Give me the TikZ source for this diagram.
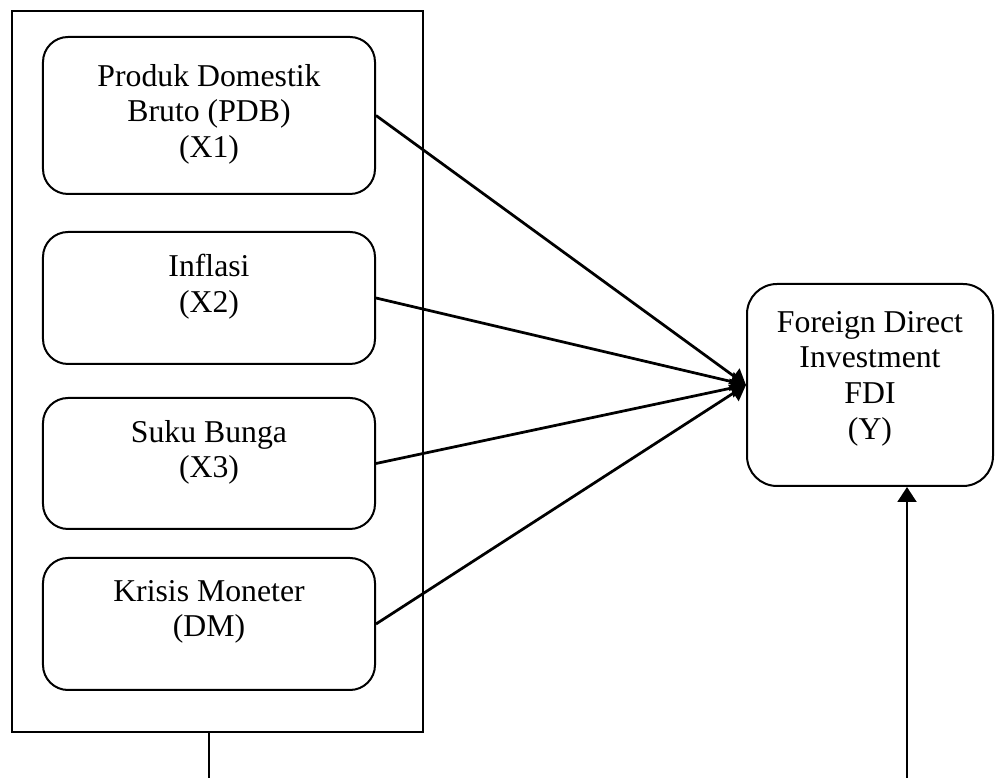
\documentclass[tikz,border=0pt]{standalone}
\usepackage{fontspec}
\setmainfont{Liberation Serif}
\usepackage{tikz}
\usetikzlibrary{arrows.meta,positioning}
\tikzset{
  varbox/.style={draw, line width=0.8pt, rounded corners=10pt, minimum width=132.8pt, inner sep=0pt},
  vartext/.style={align=center, inner sep=0pt, font=\fontsize{12.7}{14.3}\selectfont},
  link/.style={line width=1.1pt, -{Triangle[length=6pt,width=7.5pt]}}
}

\begin{document}
\begin{tikzpicture}[x=0.4pt,y=-0.4pt]
  \useasboundingbox (0,0) rectangle (995,778);

  % frame round the independent variables
  \node[draw, line width=0.8pt, minimum width=164.4pt, minimum height=288.4pt, inner sep=0pt] (frame) at (217.5,371.5) {};

  % independent variables
  \node[varbox, minimum height=62.8pt] (pdb) at (209,115.5) {};
  \node[vartext, below=11pt of pdb.north] (pdbtext) {Produk Domestik\\Bruto (PDB)\\(X1)};
  \node[varbox, minimum height=52.8pt] (inf) at (209,298) {};
  \node[vartext, below=9pt of inf.north] (inftext) {Inflasi\\(X2)};
  \node[varbox, minimum height=52.4pt] (sb) at (209,463.5) {};
  \node[vartext, below=9pt of sb.north] (sbtext) {Suku Bunga\\(X3)};
  \node[varbox, minimum height=52.8pt] (dm) at (209,624) {};
  \node[vartext, below=9pt of dm.north] (dmtext) {Krisis Moneter\\(DM)};

  % dependent variable
  \node[varbox, rounded corners=12pt, minimum width=98.4pt, minimum height=80.8pt] (fdi) at (870,385) {};
  \node[vartext, below=11pt of fdi.north] (fditext) {Foreign Direct\\Investment\\FDI\\(Y)};

  \draw[link] (pdb.east) -- (fdi.west);
  \draw[link] (inf.east) -- (fdi.west);
  \draw[link] (sb.east) -- (fdi.west);
  \draw[link] (dm.east) -- (fdi.west);

  % lines leaving the picture at the bottom
  \coordinate (lowL) at (209,778);
  \coordinate (lowR) at (907,778);
  \draw[line width=1.1pt] (lowL |- frame.south) -- (lowL);
  \draw[link] (lowR) -- (lowR |- fdi.south);
\end{tikzpicture}
\end{document}
